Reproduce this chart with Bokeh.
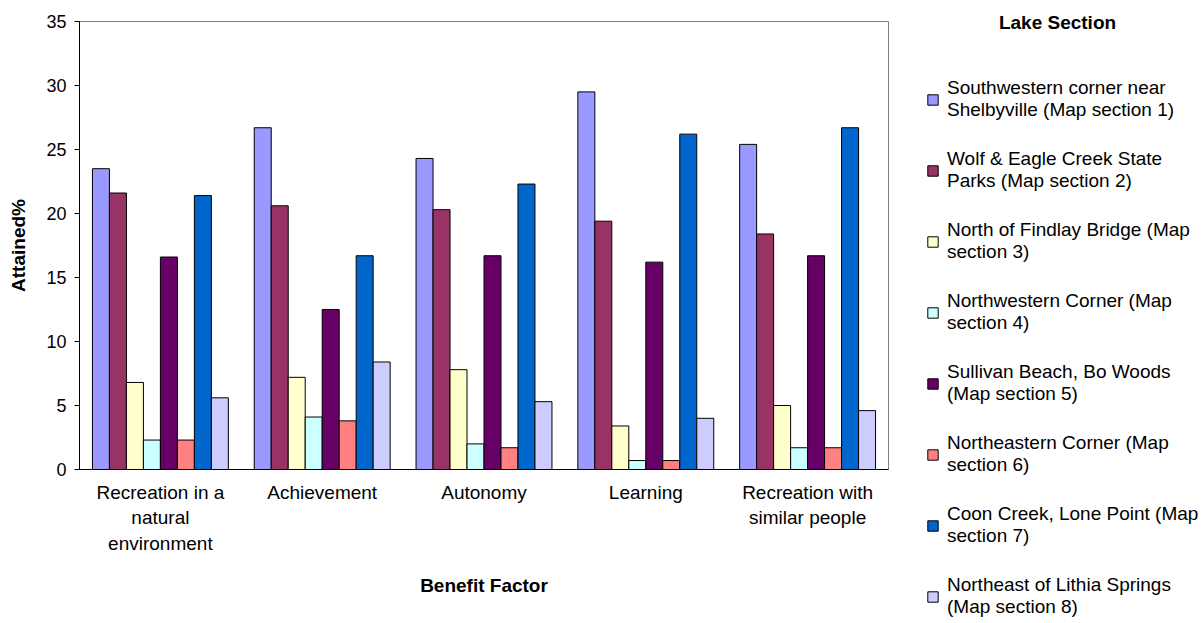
from bokeh.plotting import figure
from bokeh.layouts import row
from bokeh.models import FactorRange, Range1d, Legend, LegendItem, ColumnDataSource, FixedTicker, Label
from bokeh.transform import dodge
from bokeh.embed import file_html
from bokeh.resources import INLINE

categories = ["Recreation in a\nnatural\nenvironment", "Achievement", "Autonomy",
              "Learning", "Recreation with\nsimilar people"]

series_names = [
    "Southwestern corner near\nShelbyville (Map section 1)",
    "Wolf & Eagle Creek State\nParks (Map section 2)",
    "North of Findlay Bridge (Map\nsection 3)",
    "Northwestern Corner (Map\nsection 4)",
    "Sullivan Beach, Bo Woods\n(Map section 5)",
    "Northeastern Corner (Map\nsection 6)",
    "Coon Creek, Lone Point (Map\nsection 7)",
    "Northeast of Lithia Springs\n(Map section 8)",
]

s1 = [23.5, 26.7, 24.3, 29.5, 25.4]
s2 = [21.6, 20.6, 20.3, 19.4, 18.4]
s3 = [6.8, 7.2, 7.8, 3.4, 5.0]
s4 = [2.3, 4.1, 2.0, 0.7, 1.7]
s5 = [16.6, 12.5, 16.7, 16.2, 16.7]
s6 = [2.3, 3.8, 1.7, 0.7, 1.7]
s7 = [21.4, 16.7, 22.3, 26.2, 26.7]
s8 = [5.6, 8.4, 5.3, 4.0, 4.6]

colors = ["#9999FF", "#993366", "#FFFFCC", "#CCFFFF", "#660066", "#FF8080", "#0066CC", "#CCCCFF"]

legend_title = "Lake Section"

series = [s1, s2, s3, s4, s5, s6, s7, s8]
keys = ["s1", "s2", "s3", "s4", "s5", "s6", "s7", "s8"]

FONT = "Liberation Sans"

data = {"cat": categories}
for k, s in zip(keys, series):
    data[k] = s
source = ColumnDataSource(data)

p = figure(width=889, height=623, x_range=FactorRange(*categories), y_range=Range1d(0, 35),
           output_backend="svg", toolbar_location=None,
           min_border_left=79, min_border_right=1, min_border_top=21, min_border_bottom=154)

bw = 0.105
for i, (k, c) in enumerate(zip(keys, colors)):
    p.vbar(x=dodge("cat", (i - 3.5) * bw, range=p.x_range), top=k, width=bw,
           source=source, fill_color=c, line_color="black", line_width=1)

p.xgrid.grid_line_color = None
p.ygrid.grid_line_color = None
p.outline_line_color = "#808080"
p.outline_line_width = 1

p.yaxis.ticker = FixedTicker(ticks=[0, 5, 10, 15, 20, 25, 30, 35])
p.yaxis.minor_tick_line_color = None
p.yaxis.major_tick_out = 5
p.yaxis.major_tick_in = 0
p.yaxis.major_label_standoff = 8
p.yaxis.major_label_text_font = FONT
p.yaxis.major_label_text_font_size = "18px"
p.yaxis.major_label_text_color = "black"
p.yaxis.axis_line_color = "black"
p.yaxis.axis_label = "Attained%"
p.yaxis.axis_label_text_font = FONT
p.yaxis.axis_label_text_font_size = "19px"
p.yaxis.axis_label_text_font_style = "bold"
p.yaxis.axis_label_text_color = "black"
p.yaxis.axis_label_standoff = 14

p.xaxis.major_tick_line_color = None
p.xaxis.major_label_text_font = FONT
p.xaxis.major_label_text_font_size = "19px"
p.xaxis.major_label_text_color = "black"
p.xaxis.major_label_text_line_height = 1.22
p.xaxis.major_label_standoff = 6
p.xaxis.axis_line_color = "black"
p.xaxis.axis_label = "Benefit Factor"
p.xaxis.axis_label_text_font = FONT
p.xaxis.axis_label_text_font_size = "19px"
p.xaxis.axis_label_text_font_style = "bold"
p.xaxis.axis_label_text_color = "black"
p.xaxis.axis_label_standoff = 18

# legend figure on the right
p2 = figure(width=312, height=623, x_range=Range1d(0, 1), y_range=Range1d(0, 1),
            output_backend="svg", toolbar_location=None,
            x_axis_type=None, y_axis_type=None,
            min_border_left=0, min_border_right=0, min_border_top=0, min_border_bottom=0)
p2.xgrid.grid_line_color = None
p2.ygrid.grid_line_color = None
p2.outline_line_color = None

for fig in (p, p2):
    if "frame_align" in fig.properties():
        fig.frame_align = False

items = []
for c, name in zip(colors, series_names):
    r = p2.vbar(x=[-10], top=[-10], width=0.1, fill_color=c, line_color="black", line_width=1)
    items.append(LegendItem(label=name, renderers=[r]))

legend = Legend(items=items, location=(37, 5))
legend.border_line_color = None
legend.background_fill_alpha = 0
legend.padding = 0
legend.margin = 0
legend.spacing = 27
legend.glyph_width = 13
legend.glyph_height = 13
legend.label_standoff = 8
legend.label_text_font = FONT
legend.label_text_font_size = "19px"
legend.label_text_color = "black"
legend.label_text_line_height = 1.2
p2.add_layout(legend, "center")

head = Label(x=168, y=601, x_units="screen", y_units="screen", text=legend_title,
             text_font=FONT, text_font_size="19px", text_font_style="bold",
             text_color="black", text_align="center", text_baseline="middle")
p2.add_layout(head)

layout = row(p, p2)
open("out.html", "w").write(file_html(layout, INLINE))
